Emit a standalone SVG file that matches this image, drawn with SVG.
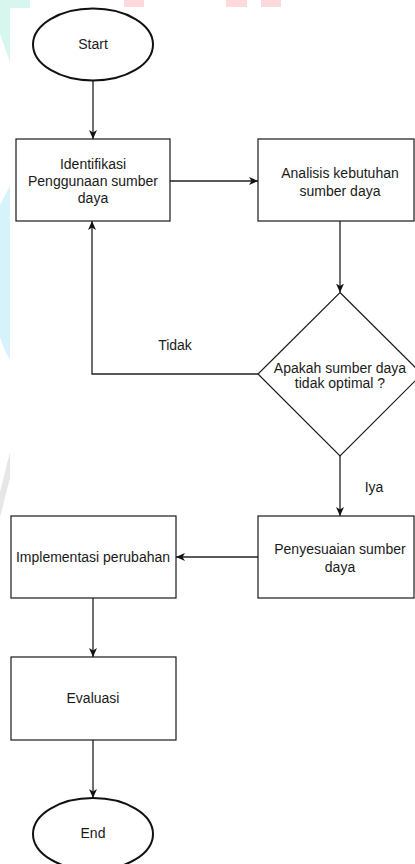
<svg xmlns="http://www.w3.org/2000/svg" width="415" height="864" viewBox="0 0 415 864">
  <style>
    .shape { fill: #ffffff; stroke: #1a1a1a; stroke-width: 1.2; }
    .term { fill: #ffffff; stroke: #111111; stroke-width: 2; }
    .edge { fill: none; stroke: #222222; stroke-width: 1.3; marker-end: url(#arrow); }
    .label { font-family: "Liberation Sans", Arial, sans-serif; font-size: 14px; fill: #1a1a1a; text-anchor: middle; }
  </style>
  <defs>
    <marker id="arrow" markerUnits="userSpaceOnUse" markerWidth="10" markerHeight="10" viewBox="0 0 10 10" refX="9" refY="5" orient="auto">
      <path d="M0,1 L9,5 L0,9 L2.5,5 Z" fill="#111111"/>
    </marker>
  </defs>

  <rect width="415" height="864" fill="#ffffff"/>

  <!-- faint background marks -->
  <g id="background">
    <polygon points="0,0 30,0 30,8 10,8 10,62 0,34" fill="#d6f6ee"/>
    <rect x="124" y="0" width="20" height="7" fill="#ffdadd"/>
    <rect x="226" y="0" width="21" height="7" fill="#ffdadd"/>
    <rect x="261" y="0" width="20" height="7" fill="#ffdadd"/>
    <path d="M10,186 L10,360 Q4,350 0,337 L0,205 Z" fill="#d6f2fb"/>
    <polygon points="10,452 10,478 0,517 0,492" fill="#e6e6e6"/>
  </g>

  <!-- connectors -->
  <g id="connectors">
    <path class="edge" d="M93,81 V139"/>
    <path class="edge" d="M170,181 H258"/>
    <path class="edge" d="M340,221 V292.5"/>
    <path class="edge" d="M258,374 H92 V221"/>
    <path class="edge" d="M340,456 V516"/>
    <path class="edge" d="M258,557 H176"/>
    <path class="edge" d="M93,598 V657"/>
    <path class="edge" d="M93,740 V798"/>
    <text class="label" x="175" y="350">Tidak</text>
    <text class="label" x="374" y="492">Iya</text>
  </g>

  <g id="start">
    <ellipse class="term" cx="93" cy="44.5" rx="60" ry="36"/>
    <text class="label" x="93" y="49">Start</text>
  </g>

  <g id="identifikasi">
    <rect class="shape" x="16" y="139" width="154" height="82"/>
    <text class="label" x="93" y="168.5">Identifikasi</text>
    <text class="label" x="93" y="186">Penggunaan sumber</text>
    <text class="label" x="93" y="203">daya</text>
  </g>

  <g id="analisis">
    <rect class="shape" x="258" y="139" width="156" height="82"/>
    <text class="label" x="340" y="177.5">Analisis kebutuhan</text>
    <text class="label" x="340" y="196">sumber daya</text>
  </g>

  <g id="keputusan">
    <polygon class="shape" points="340,292.5 422,374 340,456 258,374"/>
    <text class="label" x="340" y="373">Apakah sumber daya</text>
    <text class="label" x="340" y="388">tidak optimal ?</text>
  </g>

  <g id="penyesuaian">
    <rect class="shape" x="258" y="516" width="156" height="82"/>
    <text class="label" x="340" y="554">Penyesuaian sumber</text>
    <text class="label" x="340" y="572">daya</text>
  </g>

  <g id="implementasi">
    <rect class="shape" x="11" y="516" width="165" height="82"/>
    <text class="label" x="93" y="562">Implementasi perubahan</text>
  </g>

  <g id="evaluasi">
    <rect class="shape" x="11" y="657" width="165" height="83"/>
    <text class="label" x="93" y="703">Evaluasi</text>
  </g>

  <g id="end">
    <ellipse class="term" cx="93" cy="834" rx="60" ry="36"/>
    <text class="label" x="93" y="838">End</text>
  </g>
</svg>
